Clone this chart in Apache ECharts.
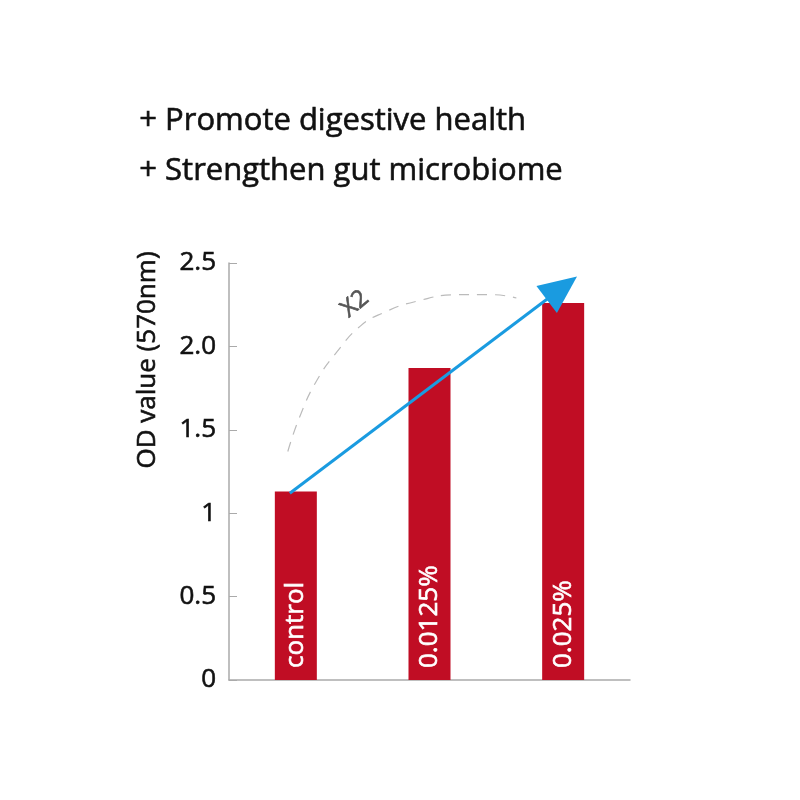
<!DOCTYPE html>
<html><head><meta charset="utf-8">
<script src="https://cdn.jsdelivr.net/npm/echarts@6/dist/echarts.min.js"></script>
<style>html,body{margin:0;padding:0;background:#fff}#c{width:800px;height:800px}</style>
</head><body><div id="c"></div>
<script>
const categories = ['control', '0.0125%', '0.025%'];
const odValues = [1.13, 1.87, 2.26];
const yTicks = ['0', '0.5', '1', '1.5', '2.0', '2.5'];
const headlines = ['+ Promote digestive health', '+ Strengthen gut microbiome'];
const yName = 'OD value (570nm)';
// arc annotation points [x in category units 0..3, y value]
const arcPoints = [[0.44,1.37],[0.53,1.58],[0.66,1.80],[0.81,1.97],[0.98,2.12],[1.15,2.20],[1.40,2.27],[1.72,2.31],[1.97,2.31],[2.15,2.29]];
const arrowFrom = [0.455, 1.12];
const arrowTo = [2.49, 2.35];
const FONT = '"Open Sans", sans-serif';
const heavy = (c) => ({ textBorderColor: c, textBorderWidth: 0.6 });
const gHeavy = (c) => ({ stroke: c, lineWidth: 0.6 });

const chart = echarts.init(document.getElementById('c'));
chart.setOption({
  animation: false,
  grid: { left: 229, right: 170, top: 263, bottom: 120 },
  graphic: [
    { type: 'text', left: 139, top: 105, style: Object.assign({ text: headlines[0], fontSize: 31, fontFamily: FONT, fill: '#111' }, gHeavy('#111')) },
    { type: 'text', left: 139, top: 155, style: Object.assign({ text: headlines[1], fontSize: 31, fontFamily: FONT, fill: '#111' }, gHeavy('#111')) },
    { type: 'text', x: 148, y: 360, rotation: Math.PI / 2, style: Object.assign({ text: yName, fontSize: 26, fontFamily: FONT, fill: '#111', align: 'center', verticalAlign: 'middle' }, gHeavy('#111')) },
    { type: 'text', x: 355, y: 304, rotation: Math.PI / 4.5, style: Object.assign({ text: 'X2', fontSize: 24, fontFamily: FONT, fill: '#555', align: 'center', verticalAlign: 'middle' }, gHeavy('#555')) }
  ],
  xAxis: [
    { type: 'category', data: categories, boundaryGap: true,
      axisLine: { lineStyle: { color: '#aaa', width: 1.5 } },
      axisTick: { inside: true, length: 8, lineStyle: { color: '#aaa' } },
      axisLabel: { show: false }, splitLine: { show: false } },
    { type: 'value', min: 0, max: 3, show: false }
  ],
  yAxis: {
    type: 'value', min: 0, max: 2.5, interval: 0.5,
    axisLine: { show: true, lineStyle: { color: '#aaa', width: 1.5 } },
    axisTick: { show: true, inside: true, length: 8, lineStyle: { color: '#aaa' } },
    splitLine: { show: false },
    axisLabel: Object.assign({ fontSize: 26, fontFamily: FONT, color: '#111', margin: 13,
      formatter: (v) => yTicks[Math.round(v / 0.5)] }, heavy('#111'))
  },
  series: [
    { type: 'bar', data: odValues, barWidth: 42, itemStyle: { color: '#c00d24' },
      label: Object.assign({ show: true, position: 'insideBottom', rotate: 90, align: 'left', verticalAlign: 'middle',
        distance: 12, color: '#fff', fontSize: 26, fontFamily: FONT, formatter: (p) => p.name }, heavy('#fff')) },
    { type: 'line', xAxisIndex: 1, data: arcPoints, smooth: true, symbol: 'none',
      lineStyle: { color: '#bbb', width: 1.2, type: [10, 8] }, z: 1 },
    { type: 'line', xAxisIndex: 1, data: [], symbol: 'none',
      markLine: { silent: true, symbol: ['none', 'triangle'], symbolSize: [34, 38],
        lineStyle: { color: '#1a9be0', width: 3, type: 'solid' }, label: { show: false },
        data: [[{ coord: arrowFrom }, { coord: arrowTo }]] }, z: 5 }
  ]
});
</script></body></html>
